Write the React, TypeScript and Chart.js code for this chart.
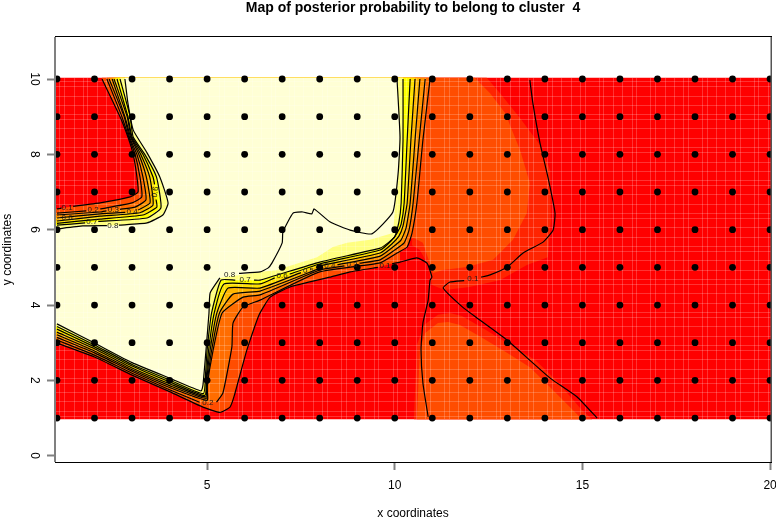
import React, { useEffect, useRef } from "react";
import { Chart, registerables } from "chart.js";

Chart.register(...registerables);

type P = [number, number] | null;

const TITLE = "Map of posterior probability to belong to cluster  4";
const X_TITLE = "x coordinates";
const Y_TITLE = "y coordinates";
const xTicks = [5, 10, 15, 20];
const yTicks = [0, 2, 4, 6, 8, 10];
const xSites = [1, 2, 3, 4, 5, 6, 7, 8, 9, 10, 11, 12, 13, 14, 15, 16, 17, 18, 19, 20];
const ySites = [1, 2, 3, 4, 5, 6, 7, 8, 9, 10];

const imgLeft = 0.947;
const imgRight = 20.025;
const imgTop = 10.03;
const imgBottom = 0.97;

// contour lines: the branch from the left edge, along the valley, to the top edge
const lower1: P[] = [[1, 2.99], [2, 2.62], [3, 2.14], [4, 1.7], [4.89, 1.29], [5.34, 1.15], [5.61, 1.29], [5.72, 1.58], [6.06, 2.81], [6.38, 3.73], [6.68, 4.21], [7.21, 4.48], [8.27, 4.74], [8.81, 4.88], [9.55, 5.0], null, [9.93, 5.1], [10.14, 5.14], [10.59, 5.25], [10.86, 5.11], [10.99, 4.74], [10.94, 4.66], [10.89, 4.13], [10.75, 3.52], [10.7, 2.81], [10.75, 1.93], [10.89, 1.03]];
const lower2: P[] = [[1, 3.07], [2, 2.67], [3, 2.19], [4, 1.75], [4.8, 1.42], null, [5.25, 1.42], [5.42, 1.66], [5.66, 2.89], [5.69, 3.52], [5.96, 3.95], [6.41, 4.13], [8, 4.88], [9.61, 5.12], [10.06, 5.38], [10.33, 5.54], [10.46, 5.91], [10.59, 6.71], [10.75, 8.38], [10.94, 10]];
const lower3: P[] = [[1, 3.14], [2, 2.73], [3, 2.24], [4, 1.81], [5.0, 1.47], [5.0, 1.82], [5.16, 2.8], [5.4, 3.79], [5.96, 4.21], [6.41, 4.27], [8, 4.93], [8.66, 5.04], null, [9.06, 5.11], [9.61, 5.2], [10.0, 5.46], [10.25, 5.65], [10.38, 5.99], [10.49, 6.71], [10.65, 8.38], [10.81, 10]];
const lower4: P[] = [[1, 3.21], [2, 2.78], [3, 2.28], [4, 1.86], [4.98, 1.52], [5.0, 1.9], [5.12, 2.8], [5.33, 3.79], [5.69, 4.29], [6.41, 4.37], [8.07, 5.0], null, [8.47, 5.07], [9.61, 5.3], [9.95, 5.54], [10.17, 5.73], [10.3, 6.04], [10.41, 6.71], [10.54, 8.38], [10.67, 10]];
const lower5: P[] = [[1, 3.28], [2, 2.84], [3, 2.33], [4, 1.91], [4.96, 1.56], [4.99, 2.0], [5.08, 2.8], [5.26, 3.79], [5.56, 4.45], [6.41, 4.45], [7.5, 4.86], null, [7.9, 5.0], [8, 5.04], [9.61, 5.38], [9.92, 5.62], [10.11, 5.83], [10.22, 6.1], [10.33, 6.71], [10.43, 8.38], [10.54, 10]];
const lower6: P[] = [[1, 3.36], [2, 2.89], [3, 2.38], [4, 1.96], [4.94, 1.6], [4.98, 2.1], [5.04, 2.8], [5.19, 3.79], [5.45, 4.56], [6.41, 4.56], [6.8, 4.72], null, [7.2, 4.82], [8, 5.09], [9.61, 5.46], [9.9, 5.7], [10.06, 5.91], [10.17, 6.15], [10.25, 6.71], [10.33, 8.38], [10.41, 10]];
const lower7: P[] = [[1, 3.43], [2, 2.94], [3, 2.42], [4, 2.01], [4.9, 1.65], [4.96, 2.2], [5.0, 2.8], [5.12, 3.79], [5.37, 4.66], [5.75, 4.66], null, [6.25, 4.66], [6.41, 4.66], [8, 5.14], [9.61, 5.51], [9.82, 5.65], [10.0, 5.81], [10.11, 6.2], [10.17, 6.71], [10.22, 8.38], [10.22, 10]];
const lower8: P[] = [[1, 3.5], [2, 2.99], [3, 2.47], [4, 2.06], [4.84, 1.72], [4.89, 1.88], [4.97, 2.8], [5.05, 3.79], [5.08, 4.32], [5.34, 4.72], null, [5.85, 4.84], [6.41, 4.88], [6.62, 4.98], [6.73, 5.12], [7.0, 5.65], [7.02, 5.94], [7.29, 6.44], [7.55, 6.47], [7.79, 6.42], [7.85, 6.55], [8.27, 6.21], [8.81, 5.99], [9.39, 5.89], [9.95, 6.47], [10.09, 7.5], [10.14, 8.46], [10.06, 10]];

// contour lines: the branch from the top edge round the upper-left corner to the left edge
const upper1: P[] = [[2.2, 10], [2.68, 9], [2.89, 8.46], [3.03, 8.0], [3.13, 7.4], [3.16, 7.0], [2.95, 6.87], [2.15, 6.71], [1.43, 6.62], null, [1.12, 6.57], [1, 6.55]];
const upper2: P[] = [[2.33, 10], [2.73, 9], [2.91, 8.46], [3.08, 8.0], [3.21, 7.4], [3.26, 6.87], [3.0, 6.71], [2.15, 6.55], null, [1.78, 6.5], [1, 6.44]];
const upper3: P[] = [[2.39, 10], [2.79, 9], [2.93, 8.46], [3.13, 8.0], [3.29, 7.4], [3.37, 6.79], [3.08, 6.6], [2.68, 6.54], null, [2.32, 6.5], [2.15, 6.47], [1, 6.39]];
const upper4: P[] = [[2.47, 10], [2.81, 9], [2.96, 8.46], [3.18, 8.0], [3.38, 7.4], [3.48, 6.71], [3.16, 6.52], null, [2.82, 6.46], [2.15, 6.42], [1, 6.31]];
const upper5: P[] = [[2.52, 10], [2.87, 9], [2.98, 8.46], [3.23, 8.0], [3.47, 7.4], [3.56, 6.66], [3.21, 6.45], [2.15, 6.36], [1, 6.23]];
const upper6: P[] = [[2.6, 10], [2.89, 9], [3.0, 8.46], [3.29, 8.0], [3.56, 7.4], [3.6, 7.2], null, [3.64, 6.8], [3.66, 6.6], [3.29, 6.39], [2.15, 6.28], [1, 6.17]];
const upper7: P[] = [[2.68, 10], [2.95, 9], [3.03, 8.46], [3.34, 8.0], [3.65, 7.4], [3.77, 6.58], [3.4, 6.31], [2.1, 6.22], null, [1.75, 6.18], [1, 6.12]];
const upper8: P[] = [[2.81, 10], [2.89, 9.36], [3.03, 8.65], [3.4, 8.04], [3.74, 7.4], [3.96, 6.71], [3.82, 6.39], [3.4, 6.18], [2.65, 6.12], null, [2.33, 6.11], [1.69, 6.1], [1, 6.02]];

// the long 0.1 contour on the right of the map
const right1: P[] = [[13.6, 9.97], [13.68, 9.36], [13.87, 8.3], [14.08, 7.4], [14.27, 6.44], [14.22, 5.99], [13.95, 5.67], [13.42, 5.38], [13.0, 5.01], [12.54, 4.8], [12.3, 4.74], null, [11.85, 4.65], [11.47, 4.61], [11.29, 4.45], [11.8, 3.95], [12.2, 3.65], [12.99, 3.07], [14.14, 2.06], [14.86, 1.56], [15.39, 1.0]];

// edge of the palest colour, where it leaves the 0.8 contour
const paleLowerEdge: P[] = [[1, 3.5], [2, 2.99], [3, 2.47], [4, 2.06], [4.84, 1.72], [4.89, 1.88], [4.97, 2.8], [5.05, 3.79], [5.08, 4.32], [5.34, 4.72], [6.41, 4.88], [6.86, 4.93], [7.93, 5.27], [8.35, 5.54], [8.73, 5.65], [9.34, 5.73], [9.95, 5.91], [10.09, 7.5], [10.14, 8.46], [10.06, 10]];

// the flat colour zones on the right
const ringUpper: P[] = [[10.5, 10.03], [12.45, 10.03], [12.8, 9.63], [13.34, 8.96], [13.87, 8.25], [14.14, 7.58], [14.16, 6.25], [14.08, 5.27], [13.52, 5.06], [12.8, 4.66], [11.99, 4.48], [11.33, 4.4], [10.99, 4.53], [10.89, 5.06], [10.67, 5.46], [10.46, 5.59]];
const ringLower: P[] = [[10.51, 0.97], [10.59, 2.94], [10.78, 3.47], [11.15, 3.74], [11.47, 3.79], [11.79, 3.71], [12.43, 3.34], [13.12, 2.91], [13.74, 2.54], [14.32, 1.98], [14.99, 1.21], [15.26, 0.97]];
const innerUpper: P[] = [[10.2, 10.03], [12.13, 10.03], [12.54, 9.62], [12.94, 9.1], [13.34, 8.11], [13.6, 7.24], [13.52, 6.44], [13.15, 5.73], [12.62, 5.2], [11.92, 5.01], [11.28, 4.93], [11.02, 4.85], [10.86, 5.33], [10.75, 5.65], [10.51, 5.78], [10.27, 5.73]];
const innerLower: P[] = [[10.59, 0.97], [10.67, 2.81], [10.81, 3.26], [11.15, 3.52], [11.42, 3.55], [11.74, 3.47], [12.35, 3.12], [12.99, 2.73], [13.6, 2.35], [14.14, 1.82], [14.75, 1.21], [14.99, 0.97]];

// light seams between image cells
const seamXs = [1.06, 1.19, 1.44, 1.69, 1.81, 2.06, 2.31, 2.56, 2.69, 3.06, 3.19, 3.44, 3.69, 3.94, 4.06, 4.44, 4.56, 4.81, 5.06, 5.31, 5.44, 5.81, 5.94, 6.19, 6.44, 6.69, 6.81, 7.19, 7.31, 7.56, 7.81, 8.06, 8.19, 8.56, 8.69, 8.94, 9.19, 9.44, 9.56, 9.94, 10.06, 10.31, 10.56, 10.81, 10.94, 11.31, 11.44, 11.69, 11.94, 12.19, 12.31, 12.69, 12.81, 13.06, 13.31, 13.56, 13.69, 14.06, 14.19, 14.44, 14.69, 14.94, 15.06, 15.44, 15.56, 15.81, 16.06, 16.31, 16.44, 16.81, 16.94, 17.19, 17.44, 17.69, 17.81, 18.19, 18.31, 18.56, 18.81, 19.06, 19.19, 19.56, 19.69, 19.94];
const seamYs = [1.06, 1.19, 1.44, 1.69, 1.94, 2.06, 2.31, 2.56, 2.81, 2.94, 3.19, 3.44, 3.69, 3.81, 4.06, 4.31, 4.56, 4.69, 4.94, 5.19, 5.44, 5.56, 5.81, 6.06, 6.31, 6.44, 6.69, 6.94, 7.19, 7.31, 7.56, 7.81, 8.06, 8.19, 8.44, 8.69, 8.94, 9.06, 9.31, 9.56, 9.81, 9.94];

// contour labels
const labelTexts = ["0.1", "0.2", "0.3", "0.4", "0.6", "0.7", "0.8", "0.6", "0.8", "0.7", "0.6", "0.5", "0.4", "0.3", "0.2", "0.1", "0.1"];
const labelXs = [1.27, 1.96, 2.5, 3.0, 1.27, 1.93, 2.49, 3.62, 5.6, 6.01, 7.0, 7.7, 8.27, 8.86, 5.02, 9.74, 12.08];
const labelYs = [6.59, 6.52, 6.53, 6.48, 6.31, 6.2, 6.11, 7.0, 4.79, 4.66, 4.77, 4.92, 5.03, 5.07, 1.4, 5.05, 4.7];
const labelAngles = [0, 0, 0, 0, 0, 0, 0, -82, 0, 0, 0, 0, 0, 0, 0, 0, 0];

const RED = "#FF0000";
const RING = "#FF2400";
const INNER = "#FF4D00";
const levelColors = ["#FF4D00", "#FF6D00", "#FF9200", "#FFB600", "#FFDF00", "#FFFF00", "#FFFF80"];
const PALE = "#FFFFD5";

const lowers = [lower1, lower2, lower3, lower4, lower5, lower6, lower7, lower8];
const uppers = [upper1, upper2, upper3, upper4, upper5, upper6, upper7, upper8];

const solid = (l: P[]) => l.filter(Boolean) as [number, number][];
const xy = (l: P[]) => l.map((p) => (p ? { x: p[0], y: p[1] } : { x: null, y: null }));

const zone = (pts: P[], color: string) => ({
  data: xy(pts),
  showLine: true,
  fill: "shape",
  backgroundColor: color,
  borderWidth: 0,
  pointRadius: 0,
  tension: 0,
});

const levelZone = (low: P[], up: P[], color: string) => {
  const a = solid(low);
  const b = solid(up);
  return zone(
    [[imgLeft, a[0][1]], ...a, [a[a.length - 1][0], imgTop], [b[0][0], imgTop], ...b, [imgLeft, b[b.length - 1][1]]],
    color,
  );
};

const contour = (pts: P[]) => ({
  data: xy(pts),
  showLine: true,
  fill: false,
  borderColor: "#000000",
  borderWidth: 1.2,
  pointRadius: 0,
  tension: 0.15,
  spanGaps: false,
});

const lowerFirstZone = () => {
  // 0.1 zone stops at the ridge near x = 10, the flat zones take over beyond it
  const a = solid(lower1).filter((p) => p[0] <= 10.14 && p[1] > 0);
  return levelZone(a, upper1, levelColors[0]);
};

const seamPlugin = {
  id: "cellSeams",
  afterDatasetDraw(chart: any, args: any) {
    if (!chart.data.datasets[args.index].seamAnchor) return;
    const { ctx, scales } = chart;
    const left = Math.round(scales.x.getPixelForValue(imgLeft));
    const right = Math.round(scales.x.getPixelForValue(imgRight));
    const top = Math.round(scales.y.getPixelForValue(imgTop));
    const bottom = Math.round(scales.y.getPixelForValue(imgBottom));
    ctx.save();
    ctx.fillStyle = "rgba(255,255,255,0.2)";
    seamXs.forEach((x) => ctx.fillRect(Math.round(scales.x.getPixelForValue(x)), top, 1, bottom - top));
    seamYs.forEach((y) => ctx.fillRect(left, Math.round(scales.y.getPixelForValue(y)), right - left, 1));
    ctx.restore();
  },
};

const framePlugin = {
  id: "frame",
  afterDraw(chart: any) {
    const { ctx, chartArea: a } = chart;
    ctx.save();
    ctx.fillStyle = "#000000";
    ctx.fillRect(a.left, a.top - 1, a.right - a.left + 1, 1);
    ctx.fillRect(a.left, a.bottom, a.right - a.left + 1, 1);
    ctx.fillStyle = "#555555";
    ctx.fillRect(a.right - 0.5, a.top, 1.5, a.bottom - a.top);
    ctx.fillStyle = "#808080";
    ctx.fillRect(a.left - 1, a.top, 2, a.bottom - a.top);
    ctx.restore();
  },
};

const labelPlugin = {
  id: "contourLabels",
  afterDatasetsDraw(chart: any) {
    const { ctx, scales } = chart;
    ctx.save();
    ctx.font = "8px 'Liberation Sans'";
    ctx.fillStyle = "#1a1a1a";
    ctx.textAlign = "center";
    ctx.textBaseline = "middle";
    labelTexts.forEach((t, i) => {
      ctx.save();
      ctx.translate(scales.x.getPixelForValue(labelXs[i]), scales.y.getPixelForValue(labelYs[i]));
      ctx.rotate((labelAngles[i] * Math.PI) / 180);
      ctx.fillText(t, 0, 0);
      ctx.restore();
    });
    ctx.restore();
  },
};

export default function App() {
  const ref = useRef<HTMLCanvasElement>(null);
  useEffect(() => {
    const bottomToTop: any[] = [
      zone([[imgLeft, imgBottom], [imgRight, imgBottom], [imgRight, imgTop], [imgLeft, imgTop]], RED),
      zone(ringUpper, RING),
      zone(ringLower, RING),
      zone(innerUpper, INNER),
      zone(innerLower, INNER),
      lowerFirstZone(),
      ...[1, 2, 3, 4, 5, 6].map((k) => levelZone(lowers[k], uppers[k], levelColors[k])),
      { ...levelZone(paleLowerEdge, upper8, PALE), seamAnchor: true },
      ...lowers.map(contour),
      ...uppers.map(contour),
      contour(right1),
      {
        data: xSites.flatMap((x) => ySites.map((y) => ({ x, y }))),
        backgroundColor: "#000000",
        borderWidth: 0,
        pointRadius: 3.4,
        showLine: false,
      },
    ];
    const tickFont = { family: "'Liberation Sans'", size: 12 };
    const chart = new Chart(ref.current as HTMLCanvasElement, {
      type: "scatter",
      data: { datasets: bottomToTop.reverse() },
      plugins: [seamPlugin, framePlugin, labelPlugin],
      options: {
        responsive: false,
        animation: false,
        events: [],
        layout: { padding: { left: 0, right: 5, top: 0, bottom: 0 } },
        plugins: {
          legend: { display: false },
          tooltip: { enabled: false },
          title: {
            display: true,
            fullSize: false,
            text: TITLE,
            color: "#000000",
            font: { family: "'Liberation Sans'", size: 14, weight: "bold", lineHeight: 1.2 },
            padding: { top: 0, bottom: 20.2 },
          },
        },
        scales: {
          x: {
            type: "linear",
            min: imgLeft,
            max: imgRight,
            afterBuildTicks: (s: any) => {
              s.ticks = xTicks.map((value) => ({ value }));
            },
            afterFit: (s: any) => {
              s.height = 56;
              s.paddingLeft = 0;
              s.paddingRight = 0;
            },
            border: { display: false },
            grid: { drawOnChartArea: false, drawTicks: true, tickLength: 8, tickColor: "#808080", tickWidth: 2 },
            ticks: { color: "#000000", font: tickFont, padding: 8, maxRotation: 0, autoSkip: false },
            title: { display: true, text: X_TITLE, color: "#000000", font: tickFont, padding: { top: 0, bottom: -3 } },
          },
          y: {
            type: "linear",
            min: -0.167,
            max: 11.115,
            afterBuildTicks: (s: any) => {
              s.ticks = yTicks.map((value) => ({ value }));
            },
            afterFit: (s: any) => {
              s.width = 55;
              s.paddingTop = 0;
              s.paddingBottom = 0;
            },
            border: { display: false },
            grid: { drawOnChartArea: false, drawTicks: true, tickLength: 8, tickColor: "#808080", tickWidth: 2 },
            ticks: { color: "#000000", font: tickFont, padding: 6, minRotation: -90, maxRotation: -90, autoSkip: false, crossAlign: "center" },
            title: { display: true, text: Y_TITLE, color: "#000000", font: tickFont, padding: { top: 0, bottom: 0 } },
          },
        },
      } as any,
    });
    return () => chart.destroy();
  }, []);
  return (
    <canvas
      ref={ref}
      width={776}
      height={518}
      style={{ position: "fixed", left: 0, top: 0, width: 776, height: 518, display: "block" }}
    />
  );
}
